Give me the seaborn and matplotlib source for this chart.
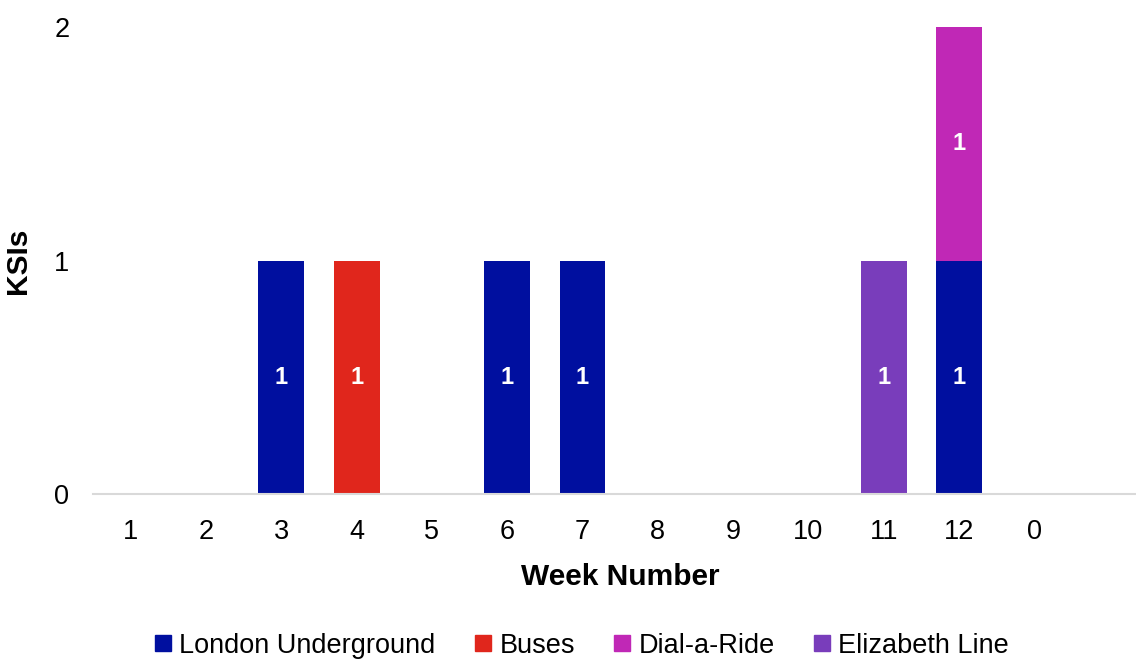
import matplotlib
matplotlib.use("Agg")
import matplotlib.pyplot as plt
from matplotlib.lines import Line2D
import seaborn as sns
import numpy as np

# Weekly KSI counts by mode
weeks = ["1", "2", "3", "4", "5", "6", "7", "8", "9", "10", "11", "12", "0"]
london_underground = [0, 0, 1, 0, 0, 1, 1, 0, 0, 0, 0, 1, 0]
buses = [0, 0, 0, 1, 0, 0, 0, 0, 0, 0, 0, 0, 0]
dial_a_ride = [0, 0, 0, 0, 0, 0, 0, 0, 0, 0, 0, 1, 0]
elizabeth_line = [0, 0, 0, 0, 0, 0, 0, 0, 0, 0, 1, 0, 0]

series_names = ["London Underground", "Buses", "Dial-a-Ride", "Elizabeth Line"]
series_values = [london_underground, buses, dial_a_ride, elizabeth_line]
series_colors = ["#000F9F", "#E0261C", "#C028B6", "#793DBB"]

sns.set_theme(style="white")
plt.rcParams["font.family"] = ["Liberation Sans", "DejaVu Sans"]
plt.rcParams["text.color"] = "black"

fig = plt.figure(figsize=(11.36, 6.6), dpi=100)
ax = fig.add_axes([0.0819, 0.2515, 0.928, 0.7075])

bottom = np.zeros(len(weeks))
for name, vals, col in zip(series_names, series_values, series_colors):
    vals = np.array(vals, dtype=float)
    sns.barplot(x=weeks, y=vals, order=weeks, color=col, width=0.61,
                bottom=bottom, ax=ax, saturation=1, linewidth=0)
    for i, v in enumerate(vals):
        if v > 0:
            ax.text(i, bottom[i] + v / 2, f"{int(v)}", ha="center", va="center",
                    color="white", fontsize=17, fontweight="bold")
    bottom += vals

ax.set_xlim(-0.5, 13.5)
ax.set_ylim(0, 2)
ax.set_yticks([0, 1, 2])
ax.tick_params(axis="both", length=0, labelsize=19.5, colors="black")
ax.tick_params(axis="x", pad=18)
ax.tick_params(axis="y", pad=17)

for side in ["top", "right", "left"]:
    ax.spines[side].set_visible(False)
ax.spines["bottom"].set_color("#D9D9D9")
ax.spines["bottom"].set_linewidth(1.5)

ax.set_xlabel("Week Number", fontsize=21.5, fontweight="bold", color="black")
ax.set_ylabel("KSIs", fontsize=21.5, fontweight="bold", color="black")
ax.xaxis.set_label_coords(0.5, -0.148)
ax.yaxis.set_label_coords(-0.058, 0.5)

handles = [Line2D([0], [0], marker="s", linestyle="none", markersize=12,
                  markerfacecolor=c, markeredgecolor=c) for c in series_colors]
leg = fig.legend(handles, series_names, loc="lower center", ncol=4, frameon=False,
                 fontsize=19.5, bbox_to_anchor=(0.51, -0.035), handletextpad=0.1,
                 columnspacing=1.25, handlelength=1.0)
for t in leg.get_texts():
    t.set_color("black")

fig.savefig("out.png", dpi=100)
